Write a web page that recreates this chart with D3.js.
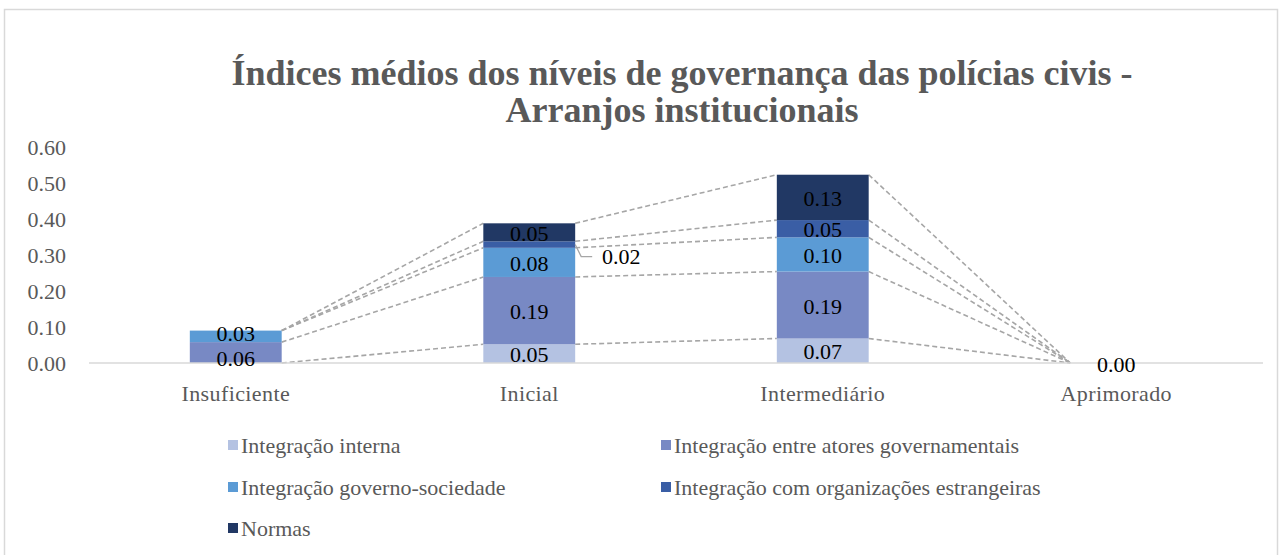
<!DOCTYPE html>
<html>
<head>
<meta charset="utf-8">
<script src="https://cdn.jsdelivr.net/npm/d3@7"></script>
<style>
  body { margin: 0; background: #fff; }
  svg text { font-family: "Liberation Serif", "Times New Roman", serif; }
</style>
</head>
<body>
<div id="chart"></div>
<script>
// categories, series and values
const categories = ["Insuficiente", "Inicial", "Intermediário", "Aprimorado"];
const seriesNames = [
  "Integração interna",
  "Integração entre atores governamentais",
  "Integração governo-sociedade",
  "Integração com organizações estrangeiras",
  "Normas"
];
const interna     = [null, 0.052, 0.068, 0];
const atores      = [0.058, 0.187, 0.186, 0];
const govSoc      = [0.032, 0.081, 0.095, 0];
const estrangeira = [null, 0.018, 0.048, 0];
const normas      = [null, 0.050, 0.126, 0];
const yTicks = [0, 0.1, 0.2, 0.3, 0.4, 0.5, 0.6];
const colors = ["#b4c2e2", "#7889c4", "#5b9bd5", "#3a5ea5", "#213864"];

const SERIF = "'Liberation Serif', 'Times New Roman', serif";

function init() {
  const W = 1282, H = 555;
  const margin = { top: 147, left: 89, right: 19, bottom: 192 };
  const width = W - margin.left - margin.right;
  const height = H - margin.top - margin.bottom;

  const svg = d3.select("#chart").append("svg")
      .attr("width", W).attr("height", H);

  // chart border
  svg.append("rect")
     .attr("x", 4.5).attr("y", 9.5)
     .attr("width", 1273).attr("height", 560)
     .attr("fill", "#fff").attr("stroke", "#d9d9d9").attr("stroke-width", 1.5);

  // title
  const titleLines = ["Índices médios dos níveis de governança das polícias civis -", "Arranjos institucionais"];
  titleLines.forEach((t, i) => {
    svg.append("text")
       .attr("x", 682).attr("y", 85 + i * 37)
       .attr("text-anchor", "middle")
       .attr("fill", "#595959")
       .style("font-family", SERIF)
       .style("font-size", "36px")
       .style("font-weight", "bold")
       .text(t);
  });

  const g = svg.append("g").attr("transform", `translate(${margin.left},${margin.top})`);

  const x = d3.scaleBand().domain(categories).range([0, width])
      .paddingInner(0.687).paddingOuter(0.3435);
  const y = d3.scaleLinear().domain([0, 0.6]).range([height, 0]);

  const allSeries = [interna, atores, govSoc, estrangeira, normas];
  const rows = categories.map((c, i) => {
    const r = { cat: c };
    seriesNames.forEach((s, j) => r[s] = allSeries[j][i] || 0);
    return r;
  });
  const stacked = d3.stack().keys(seriesNames)(rows);

  // y axis labels
  const yAxis = g.append("g")
     .call(d3.axisLeft(y).tickValues(yTicks).tickFormat(d3.format(".2f")).tickSize(0).tickPadding(23));
  yAxis.select(".domain").remove();
  yAxis.selectAll("text").attr("fill", "#595959").style("font-size", "22px")
     .style("font-family", SERIF);

  // series lines (dashed connectors)
  stacked.forEach(layer => {
    for (let i = 0; i < categories.length - 1; i++) {
      g.append("line")
       .attr("x1", x(categories[i]) + x.bandwidth())
       .attr("y1", y(layer[i][1]))
       .attr("x2", x(categories[i + 1]))
       .attr("y2", y(layer[i + 1][1]))
       .attr("stroke", "#a6a6a6")
       .attr("stroke-width", 1.6)
       .attr("stroke-dasharray", "5,3");
    }
  });

  // bars
  stacked.forEach((layer, j) => {
    g.selectAll(null).data(layer).enter().append("rect")
     .attr("x", d => x(d.data.cat))
     .attr("y", d => y(d[1]))
     .attr("width", x.bandwidth())
     .attr("height", d => y(d[0]) - y(d[1]))
     .attr("fill", colors[j]);
  });

  // x axis line
  g.append("line")
   .attr("x1", 0).attr("x2", width)
   .attr("y1", height).attr("y2", height)
   .attr("stroke", "#d9d9d9").attr("stroke-width", 1.5);

  // category labels
  g.selectAll(".cat").data(categories).enter().append("text")
   .attr("x", d => x(d) + x.bandwidth() / 2)
   .attr("y", height + 38)
   .attr("text-anchor", "middle")
   .attr("fill", "#595959")
   .style("font-family", SERIF)
   .style("font-size", "22px")
   .style("letter-spacing", "0.4px")
   .text(d => d);

  // data labels: collect per category, then push apart the ones that collide
  const fmt = d3.format(".2f");
  categories.forEach((cat, i) => {
    const labels = [];
    const seen = {};
    stacked.forEach((layer, j) => {
      const d = layer[i];
      const v = allSeries[j][i];
      if (v === null) return;
      const key = fmt(d[1]);
      if (v === 0 && seen[key]) return;
      seen[key] = true;
      labels.push({ v, top: y(d[1]), bottom: y(d[0]), cy: (y(d[0]) + y(d[1])) / 2 });
    });

    const cx = x(cat) + x.bandwidth() / 2;
    const xr = x(cat) + x.bandwidth();
    const inside = labels.filter(l => !(l.v > 0 && l.bottom - l.top < 10));
    const outside = labels.filter(l => l.v > 0 && l.bottom - l.top < 10);

    // simple separation of inside labels
    const minGap = 25;
    inside.sort((a, b) => b.cy - a.cy);
    for (let k = 1; k < inside.length; k++) {
      const gap = inside[k - 1].cy - inside[k].cy;
      if (gap > 0 && gap < minGap) {
        const shift = (minGap - gap) / 2;
        inside[k - 1].cy += shift;
        inside[k].cy -= shift;
      }
    }
    inside.forEach(l => {
      g.append("text")
       .attr("x", cx).attr("y", l.cy + 1)
       .attr("dy", "0.35em")
       .attr("text-anchor", "middle")
       .attr("fill", "#000")
       .style("font-family", SERIF)
       .style("font-size", "22px")
       .text(fmt(l.v));
    });

    // small segment: label outside with leader line
    outside.forEach(l => {
      g.append("polyline")
       .attr("points", `${xr},${l.cy} ${xr + 6},${l.cy + 12} ${xr + 17},${l.cy + 12}`)
       .attr("fill", "none").attr("stroke", "#a6a6a6").attr("stroke-width", 1.3);
      g.append("text")
       .attr("x", xr + 46).attr("y", l.cy + 12)
       .attr("dy", "0.35em")
       .attr("text-anchor", "middle")
       .attr("fill", "#000")
       .style("font-family", SERIF)
       .style("font-size", "22px")
       .text(fmt(l.v));
    });
  });

  // legend
  const legendPos = [[228, 445], [661, 445], [228, 487], [661, 487], [228, 528]];
  seriesNames.forEach((s, j) => {
    const lg = svg.append("g").attr("transform", `translate(${legendPos[j][0]},${legendPos[j][1]})`);
    lg.append("rect").attr("x", 0).attr("y", -5).attr("width", 10).attr("height", 10)
      .attr("fill", colors[j]);
    lg.append("text").attr("x", 13).attr("y", 0).attr("dy", "0.35em")
      .attr("fill", "#595959")
      .style("font-family", SERIF)
      .style("font-size", "22px")
      .text(s);
  });
}
window.onload = init;
</script>
</body>
</html>
